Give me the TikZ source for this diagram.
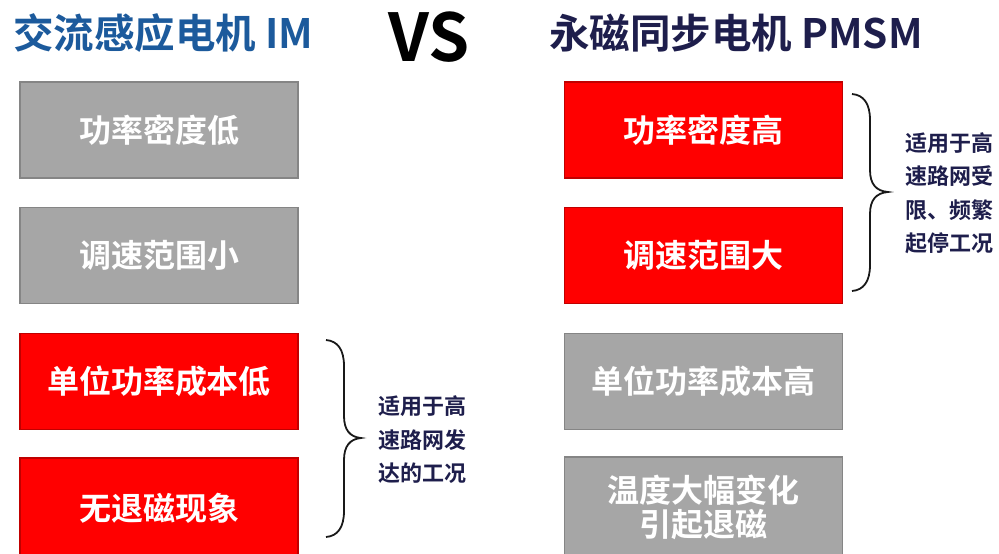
\documentclass[tikz,border=0pt]{standalone}
\usepackage{fontspec}
\setmainfont{Noto Sans CJK SC}[BoldFont={Noto Sans CJK SC Bold}]
\definecolor{boxgray}{HTML}{A6A6A6}
\definecolor{boxgrayline}{HTML}{858585}
\definecolor{boxred}{HTML}{FF0000}
\definecolor{boxredline}{HTML}{C00000}
\definecolor{titleblue}{HTML}{1C5A9C}
\definecolor{titlenavy}{HTML}{1E1E4C}
\begin{document}
\begin{tikzpicture}[x=1pt,y=-1pt,
  featbox/.style={minimum width=278pt,minimum height=96pt,inner sep=0pt,line width=1.5pt,
    text=white,font=\bfseries\fontsize{32}{37}\selectfont,align=center},
  graybox/.style={featbox,fill=boxgray,draw=boxgrayline},
  redbox/.style={featbox,fill=boxred,draw=boxredline},
  bracenote/.style={text=titlenavy,font=\bfseries\fontsize{22}{33.5}\selectfont,align=left,inner sep=0pt},
  bracepath/.style={line width=1.8pt,draw=black!90}]
\useasboundingbox (0,0) rectangle (999,554);
\fill[white] (0,0) rectangle (999,554);

% titles
\node[anchor=west,inner sep=0pt,text=titleblue,font=\bfseries\fontsize{40.5}{41}\selectfont] (tleft) at (13,33) {交流感应电机 IM};
\node[inner sep=0pt,text=black,font=\bfseries\fontsize{66}{66}\selectfont] (vs) at (429,37) {VS};
\node[anchor=west,inner sep=0pt,text=titlenavy,font=\bfseries\fontsize{40.5}{41}\selectfont] (tright) at (549,33) {永磁同步电机 PMSM};

% left column
\node[graybox] (l1) at (159,130) {功率密度低};
\node[graybox] (l2) at (159,255.5) {调速范围小};
\node[redbox] (l3) at (159,381.5) {单位功率成本低};
\node[redbox] (l4) at (159,508) [minimum height=100pt] {无退磁现象};

% right column
\node[redbox] (r1) at (703.5,130) {功率密度高};
\node[redbox] (r2) at (703.5,255.5) {调速范围大};
\node[graybox] (r3) at (703.5,381.5) {单位功率成本高};
\node[graybox] (r4) at (703.5,507) [minimum height=100pt] {温度大幅变化\\[-3pt]引起退磁};

% left brace
\coordinate (lbt) at (326,340);
\coordinate (lbm) at (361,438);
\coordinate (lbb) at (326,537);
\draw[bracepath] (lbt) .. controls (338,341) and (344,350) .. (344,366)
  -- (344,416) .. controls (344,430) and (350,437) .. (lbm)
  .. controls (350,439) and (344,446) .. (344,460)
  -- (344,511) .. controls (344,527) and (338,536) .. (lbb);
\node[bracenote,anchor=west] (lnote) at (378,440) {适用于高\\速路网发\\达的工况};

% right brace
\coordinate (rbt) at (852,94);
\coordinate (rbm) at (888,192);
\coordinate (rbb) at (852,291);
\draw[bracepath] (rbt) .. controls (864,95) and (870,104) .. (870,120)
  -- (870,170) .. controls (870,184) and (876,191) .. (rbm)
  .. controls (876,193) and (870,200) .. (870,214)
  -- (870,265) .. controls (870,281) and (864,290) .. (rbb);
\node[bracenote,anchor=west] (rnote) at (905,193) {适用于高\\速路网受\\限、频繁\\起停工况};
\end{tikzpicture}
\end{document}
